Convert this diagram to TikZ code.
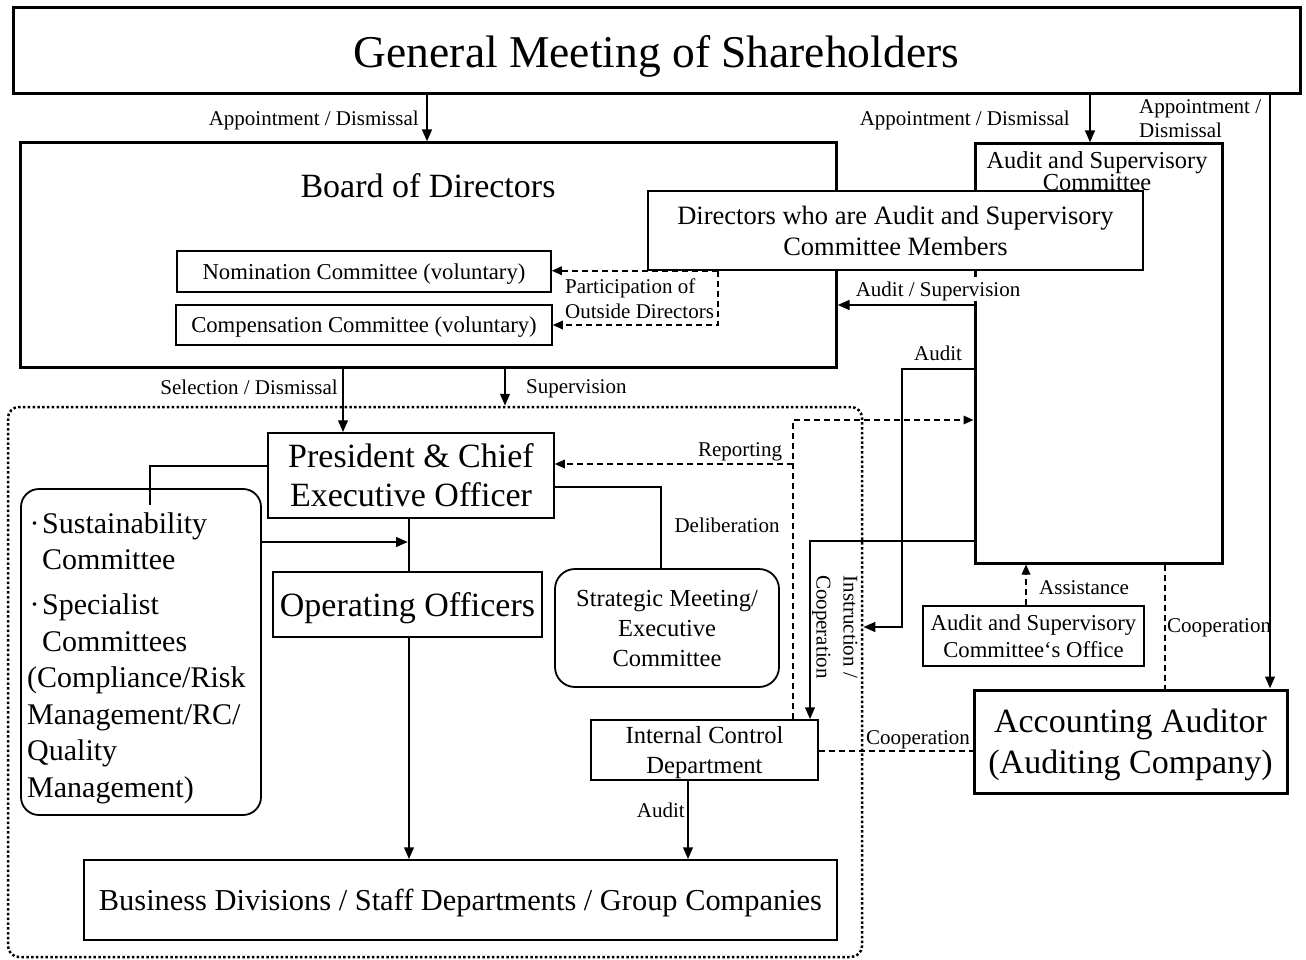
\documentclass[tikz,border=0pt]{standalone}
\usepackage{fontspec}
\setmainfont{Liberation Serif}
\usetikzlibrary{arrows.meta}
\newcommand\myfs[2]{\fontsize{#1}{#2}\selectfont}
\newcommand\bdot{\makebox[15pt][c]{·}}
\begin{document}
\begin{tikzpicture}[x=1pt,y=-1pt,
  tbox/.style={draw, line width=3pt, fill=white, inner sep=0pt, align=center, text depth=0pt},
  sbox/.style={draw, line width=1.5pt, fill=white, inner sep=0pt, align=center, text depth=0pt},
  rbox/.style={draw, line width=1.8pt, fill=white, inner sep=0pt, align=center, rounded corners=18pt, text depth=0pt},
  dotbox/.style={draw, line width=2.5pt, dash pattern=on 2.5pt off 2.3pt, rounded corners=11pt, inner sep=0pt},
  conn/.style={line width=2.6pt},
  arr/.style={conn, -{Triangle[length=12pt,width=9.5pt]}},
  dconn/.style={line width=1.7pt, dash pattern=on 6pt off 4pt},
  darr/.style={dconn, -{Triangle[length=10pt,width=8.5pt]}},
  lbl/.style={font=\myfs{21}{24}, inner sep=1pt, text depth=0pt}
]
\useasboundingbox (0,0) rectangle (1306,960);

% execution area
\node[dotbox, minimum width=854pt, minimum height=550pt] (exec) at (435,682) {};

% top level
\node[tbox, minimum width=1287pt, minimum height=86pt, font=\myfs{45.5}{50}] (gms) at (656.5,51) {General Meeting of Shareholders};
\node[tbox, minimum width=816pt, minimum height=224pt] (board) at (428,255) {};
\node[font=\myfs{34}{38}, inner sep=0pt] (boardt) at (428,186) {Board of Directors};
\node[tbox, minimum width=247pt, minimum height=419pt] (asc) at (1098.5,353.5) {};
\node[font=\myfs{24.4}{22.5}, align=center, inner sep=0pt] (asct) at (1097,171) {Audit and Supervisory\\Committee};
\node[sbox, minimum width=495pt, minimum height=79pt, font=\myfs{26.5}{31}] (dir) at (895.5,230.5) {Directors who are Audit and Supervisory\\Committee Members};
\node[sbox, minimum width=374pt, minimum height=41pt, font=\myfs{22.7}{26}] (nom) at (364,271.5) {Nomination Committee (voluntary)};
\node[sbox, minimum width=376pt, minimum height=40pt, font=\myfs{22.7}{26}] (comp) at (364,325) {Compensation Committee (voluntary)};

% execution side
\node[sbox, minimum width=286pt, minimum height=85pt, font=\myfs{34}{39}] (pres) at (411,475.5) {President \& Chief\\Executive Officer};
\node[sbox, minimum width=269pt, minimum height=65pt, font=\myfs{34}{38}] (oo) at (407.5,604.5) {Operating Officers};
\node[rbox, minimum width=240pt, minimum height=326pt] (comms) at (141,652) {};
\node[font=\myfs{30}{36.5}, align=left, inner sep=0pt, anchor=north west] (commst) at (27,512)
  {\bdot Sustainability\\\hspace*{15pt}Committee\\[8.5pt]\bdot Specialist\\\hspace*{15pt}Committees\\(Compliance/Risk\\Management/RC/\\Quality\\Management)};
\node[rbox, rounded corners=20pt, minimum width=224pt, minimum height=118pt, font=\myfs{24.5}{30}] (strat) at (667,628) {Strategic Meeting/\\Executive\\Committee};
\node[sbox, minimum width=227pt, minimum height=60pt, font=\myfs{24.6}{30}] (icd) at (704.5,750) {Internal Control\\Department};
\node[sbox, minimum width=753pt, minimum height=80pt, font=\myfs{30.4}{34}] (biz) at (460.5,900) {Business Divisions / Staff Departments / Group Companies};

% audit side
\node[tbox, minimum width=313pt, minimum height=103pt, font=\myfs{34}{41}] (aud) at (1130.5,741.5) {Accounting Auditor\\(Auditing Company)};
\node[sbox, minimum width=221pt, minimum height=60pt, font=\myfs{22.7}{27}] (office) at (1033.5,636) {Audit and Supervisory\\Committee‘s Office};

% coordinates
\coordinate (rep) at (793,464);
\coordinate (cj) at (150,505);
\coordinate (opline) at (408,542);

% connectors
\draw[arr] (gms.south -| 427,0) -- (board.north -| 427,0);
\draw[arr] (gms.south -| 1090,0) -- (asc.north -| 1090,0);
\draw[arr] (gms.south -| 1270,0) -- (aud.north -| 1270,0);
\draw[arr] (asc.west |- 0,305) -- (board.east |- 0,305);
\draw[arr] (asc.west |- 0,369) -| (902,627) -- (exec.east |- 0,627);
\draw[arr] (asc.west |- 0,541) -| (icd.north -| 810,0);
\draw[darr] (icd.north -| 793,0) |- (asc.west |- 0,420);
\draw[darr] (rep) -- (pres.east |- rep);
\draw[arr] (board.south -| 343,0) -- (pres.north -| 343,0);
\draw[arr] (board.south -| 505,0) -- (exec.north -| 505,0);
\draw[conn] (pres.west |- 0,466) -| (cj);
\draw[arr] (comms.east |- opline) -- (opline);
\draw[conn] (pres.south -| 409,0) -- (oo.north -| 409,0);
\draw[arr] (oo.south -| 409,0) -- (biz.north -| 409,0);
\draw[conn] (pres.east |- 0,487) -| (strat.north -| 661,0);
\draw[arr] (icd.south -| 688,0) -- (biz.north -| 688,0);
\draw[dconn] (icd.east |- 0,751) -- (aud.west |- 0,751);
\draw[dconn] (asc.south -| 1165,0) -- (aud.north -| 1165,0);
\draw[darr] (office.north -| 1026,0) -- (asc.south -| 1026,0);
\draw[darr] (dir.south -| 718,0) -- (nom.east |- dir.south);
\draw[darr] (dir.south -| 718,0) |- (comp.east);

% labels
\node[lbl, anchor=east] (l1) at (420,118) {Appointment / Dismissal};
\node[lbl, anchor=east] (l2) at (1071,118) {Appointment / Dismissal};
\node[lbl, anchor=west, align=left] (l3) at (1138,119) {Appointment /\\Dismissal};
\node[lbl, fill=white, inner ysep=5pt] (l4) at (938,289) {Audit / Supervision};
\node[lbl] (l5) at (938,353) {Audit};
\node[lbl, rotate=-90, align=center, font=\myfs{21}{27}] (l6) at (837,627) {Instruction /\\Cooperation};
\node[lbl] (l7) at (740,450) {Reporting};
\node[lbl, anchor=east] (l8) at (339,387) {Selection / Dismissal};
\node[lbl, anchor=west] (l9) at (525,387) {Supervision};
\node[lbl] (l10) at (727,525) {Deliberation};
\node[lbl, anchor=east] (l11) at (686,810) {Audit};
\node[lbl] (l12) at (918,738) {Cooperation};
\node[lbl, anchor=west] (l13) at (1166,626) {Cooperation};
\node[lbl, anchor=west] (l14) at (1038,588) {Assistance};
\node[lbl, anchor=west, align=left, font=\myfs{21}{25}] (l15) at (564,299) {Participation of\\Outside Directors};
\end{tikzpicture}
\end{document}
